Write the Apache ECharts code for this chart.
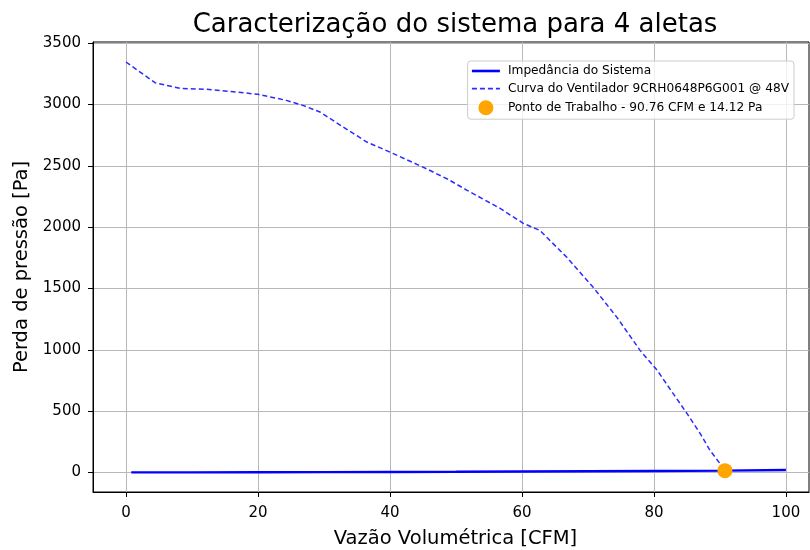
<!DOCTYPE html>
<html>
<head>
<meta charset="utf-8">
<script src="https://cdn.jsdelivr.net/npm/echarts@6/dist/echarts.min.js"></script>
<style>
  html, body { margin: 0; padding: 0; background: #fff; }
  #chart { width: 810px; height: 550px; }
</style>
</head>
<body>
<div id="chart"></div>
<script>
// System impedance curve: flow [CFM] vs pressure loss [Pa]
const impedanceFlow = [0.8, 10, 20, 30, 40, 50, 60, 70, 80, 90.76, 100];
const impedancePressure = [0.0, 0.2, 0.8, 1.7, 3.0, 4.6, 6.6, 9.0, 11.5, 14.12, 19.0];

// Fan curve 9CRH0648P6G001 @ 48V
const fanFlow = [0, 4.4, 8.2, 12.2, 16.8, 20, 24.3, 26.8, 29.4, 32.9, 36.5, 40, 45, 48.8, 51.7, 56.7, 60.2, 62.7, 66.8, 70.8, 74.4, 77.9, 80.5, 82.9, 85, 87, 88.5, 90, 90.76];
const fanPressure = [3347, 3178, 3132, 3124, 3102, 3083, 3034, 2993, 2939, 2817, 2694, 2612, 2490, 2390, 2300, 2153, 2031, 1974, 1754, 1509, 1264, 995, 832, 644, 481, 318, 179, 73, 14];

// Operating point
const workFlow = 90.76;
const workPressure = 14.12;

const xTicks = [0, 20, 40, 60, 80, 100];
const yTicks = [0, 500, 1000, 1500, 2000, 2500, 3000, 3500];

const names = {
  impedance: 'Impedância do Sistema',
  fan: 'Curva do Ventilador 9CRH0648P6G001 @ 48V',
  point: 'Ponto de Trabalho - ' + workFlow.toFixed(2) + ' CFM e ' + workPressure.toFixed(2) + ' Pa'
};

const FONT = 'DejaVu Sans';
const BLUE = '#0000ff';
const FAN_BLUE = '#2b2bff';
const chart = echarts.init(document.getElementById('chart'), null, { renderer: 'canvas' });

const zip = (xs, ys) => xs.map((x, i) => [x, ys[i]]);
const plain = v => String(v);

chart.setOption({
  animation: false,
  backgroundColor: '#ffffff',
  textStyle: { fontFamily: FONT },
  title: {
    text: 'Caracterização do sistema para 4 aletas',
    left: 450, top: 7, textAlign: 'center',
    textStyle: { fontFamily: FONT, fontSize: 26, fontWeight: 'normal', color: '#000' }
  },
  grid: {
    left: 93, top: 42, right: 1, bottom: 58,
    containLabel: false, outerBoundsMode: 'none',
    show: true, borderColor: '#000', borderWidth: 1, backgroundColor: 'transparent'
  },
  legend: {
    orient: 'vertical',
    right: 16, top: 61,
    itemWidth: 28, itemHeight: 15, itemGap: 5.6,
    padding: [4, 5, 4, 3],
    borderColor: '#cccccc', borderWidth: 1, borderRadius: 3,
    backgroundColor: 'rgba(255,255,255,0.8)',
    textStyle: { fontFamily: FONT, fontSize: 12.2, color: '#000', padding: [0, 0, 0, 3] },
    data: [
      { name: names.impedance, itemStyle: { opacity: 0 }, lineStyle: { color: BLUE, width: 2.6 } },
      { name: names.fan, itemStyle: { opacity: 0 }, lineStyle: { color: FAN_BLUE, width: 1.6, type: [5, 3] } },
      { name: names.point, icon: 'circle' }
    ]
  },
  xAxis: {
    type: 'value', min: -5, max: 103.5,
    name: 'Vazão Volumétrica [CFM]', nameLocation: 'middle', nameGap: 37,
    nameTextStyle: { fontFamily: FONT, fontSize: 19.5, color: '#000', padding: [0, 0, 0, 9] },
    axisLine: { show: true, onZero: false, lineStyle: { color: '#000', width: 1 } },
    axisTick: { show: true, inside: false, length: 5, customValues: xTicks, lineStyle: { color: '#000' } },
    axisLabel: { customValues: xTicks, formatter: plain, margin: 14, fontFamily: FONT, fontSize: 15, color: '#000' },
    splitLine: { show: true, lineStyle: { color: '#b8b8b8', width: 1 } }
  },
  yAxis: {
    type: 'value', min: -160, max: 3510,
    name: 'Perda de pressão [Pa]', nameLocation: 'middle', nameGap: 58,
    nameTextStyle: { fontFamily: FONT, fontSize: 19.5, color: '#000' },
    axisLine: { show: true, onZero: false, lineStyle: { color: '#000', width: 1 } },
    axisTick: { show: true, inside: false, length: 5, customValues: yTicks, lineStyle: { color: '#000' } },
    axisLabel: { customValues: yTicks, formatter: plain, margin: 12, fontFamily: FONT, fontSize: 15, color: '#000' },
    splitLine: { show: true, lineStyle: { color: '#b8b8b8', width: 1 } }
  },
  series: [
    {
      name: names.impedance, type: 'line',
      data: zip(impedanceFlow, impedancePressure),
      symbol: 'none', smooth: false,
      lineStyle: { color: BLUE, width: 2.4 },
      itemStyle: { color: BLUE },
      z: 3
    },
    {
      name: names.fan, type: 'line',
      data: zip(fanFlow, fanPressure),
      symbol: 'none', smooth: false,
      lineStyle: { color: FAN_BLUE, width: 1.5, type: [5, 3] },
      itemStyle: { color: FAN_BLUE },
      z: 3
    },
    {
      name: names.point, type: 'scatter',
      data: [[workFlow, workPressure]],
      symbol: 'circle', symbolSize: 15,
      itemStyle: { color: '#ffa500', opacity: 1 },
      z: 5
    }
  ]
});
</script>
</body>
</html>
